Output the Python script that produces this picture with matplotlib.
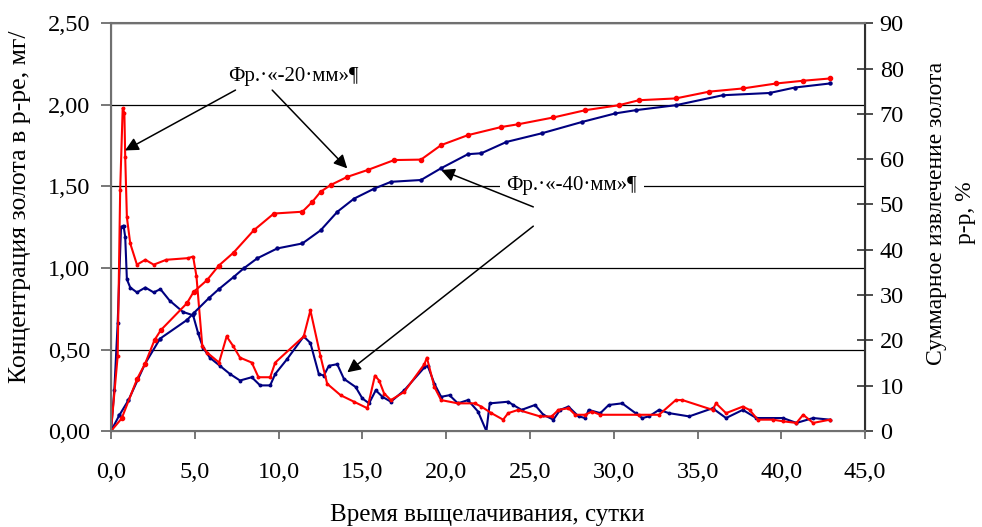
import matplotlib
matplotlib.use('Agg')
import matplotlib.pyplot as plt

plt.rcParams['font.family'] = ['Liberation Serif', 'DejaVu Serif']

# concentration, mg/l (left axis)
t_conc_20 = [0, 0.4, 0.55, 0.7, 0.8, 0.85, 0.95, 1.15, 1.55, 2.05, 2.55, 3.3, 4.6, 4.9, 5.1, 5.45,
             5.75, 6.45, 6.9, 7.3, 7.7, 8.4, 8.8, 9.5, 9.8, 11.5, 11.9, 12.5, 12.9, 13.7, 14.5,
             15.3, 15.75, 16.0, 16.3, 16.7, 17.5, 18.7, 18.85, 19.3, 19.7, 20.7, 21.7, 22.1,
             22.7, 23.4, 23.7, 24.3, 25.6, 26.3, 26.7, 27.3, 27.7, 28.3, 28.7, 29.2, 31.5, 32.7,
             33.7, 34.1, 35.9, 36.1, 36.7, 37.7, 38.1, 38.6, 39.5, 40.1, 40.9, 41.3, 41.9, 42.9]
conc_20 = [0, 0.46, 1.48, 1.98, 1.95, 1.68, 1.31, 1.15, 1.02, 1.05, 1.02, 1.05, 1.06, 1.07, 0.95,
           0.52, 0.48, 0.42, 0.58, 0.52, 0.45, 0.42, 0.33, 0.33, 0.42, 0.58, 0.74, 0.46, 0.29,
           0.22, 0.18, 0.14, 0.34, 0.31, 0.23, 0.19, 0.24, 0.41, 0.45, 0.27, 0.19, 0.17, 0.17,
           0.15, 0.11, 0.07, 0.11, 0.13, 0.09, 0.09, 0.13, 0.14, 0.10, 0.10, 0.12, 0.10, 0.10,
           0.10, 0.19, 0.19, 0.13, 0.17, 0.11, 0.15, 0.13, 0.07, 0.07, 0.06, 0.05, 0.10, 0.05, 0.07]

t_conc_40 = [0, 0.2, 0.4, 0.6, 0.75, 0.85, 0.95, 1.15, 1.55, 2.05, 2.55, 2.95, 3.5, 4.3, 4.9, 5.2,
             5.5, 5.9, 6.5, 7.1, 7.7, 8.4, 8.9, 9.5, 9.8, 10.5, 11.5, 11.9, 12.4, 12.7, 13.0,
             13.5, 13.9, 14.6, 15.0, 15.4, 15.8, 16.2, 16.7, 17.5, 18.7, 18.9, 19.3, 19.7, 20.2,
             20.7, 21.3, 21.9, 22.4, 22.6, 23.7, 24.0, 24.5, 25.3, 25.8, 26.4, 26.8, 27.3, 27.9,
             28.3, 28.5, 29.2, 29.7, 30.5, 31.3, 31.7, 32.1, 32.7, 33.3, 34.5, 35.9, 36.7, 37.7,
             38.5, 40.1, 40.9, 41.9, 42.9]
conc_40 = [0, 0.25, 0.66, 1.25, 1.26, 1.19, 0.93, 0.88, 0.85, 0.88, 0.85, 0.87, 0.80, 0.73, 0.71,
           0.60, 0.51, 0.45, 0.40, 0.35, 0.31, 0.33, 0.28, 0.28, 0.35, 0.44, 0.58, 0.54, 0.35,
           0.34, 0.40, 0.41, 0.32, 0.27, 0.20, 0.17, 0.25, 0.21, 0.18, 0.25, 0.39, 0.40, 0.29,
           0.21, 0.22, 0.17, 0.19, 0.12, 0.0, 0.17, 0.18, 0.16, 0.13, 0.16, 0.10, 0.07, 0.13,
           0.15, 0.09, 0.08, 0.13, 0.11, 0.16, 0.17, 0.11, 0.08, 0.09, 0.13, 0.11, 0.09, 0.14,
           0.08, 0.13, 0.08, 0.08, 0.05, 0.08, 0.07]

# cumulative extraction, % (right axis)
t_ext_20 = [0, 0.64, 1.57, 2.04, 2.6, 2.98, 4.53, 4.93, 5.73, 6.43, 7.32, 8.52, 9.72, 11.42, 12.02,
            12.51, 13.11, 14.11, 15.31, 16.9, 18.5, 19.7, 21.3, 23.3, 24.3, 26.4, 28.3, 30.3,
            31.5, 33.7, 35.7, 37.7, 39.7, 41.3, 42.9]
ext_20 = [0, 2.8, 11.6, 14.9, 20.1, 22.3, 28.2, 30.7, 33.3, 36.5, 39.4, 44.3, 48.0, 48.4, 50.6,
          52.8, 54.3, 56.1, 57.6, 59.8, 59.9, 63.1, 65.3, 67.1, 67.7, 69.2, 70.8, 71.9, 73.0,
          73.4, 74.9, 75.6, 76.7, 77.3, 77.8]

t_ext_40 = [0, 0.5, 1.04, 2.04, 2.93, 4.53, 4.93, 5.83, 6.43, 7.32, 7.92, 8.72, 9.92, 11.42, 12.51,
            13.51, 14.51, 15.71, 16.71, 18.5, 19.7, 21.3, 22.1, 23.6, 25.7, 28.1, 30.1, 31.3,
            33.7, 36.5, 39.3, 40.8, 42.9]
ext_40 = [0, 3.5, 6.8, 14.9, 20.4, 24.5, 26.0, 29.3, 31.3, 34.0, 35.9, 38.1, 40.3, 41.4, 44.3,
          48.4, 51.3, 53.5, 55.0, 55.4, 58.0, 61.1, 61.3, 63.8, 65.7, 68.2, 70.1, 70.8, 71.9,
          74.1, 74.6, 75.8, 76.7]

x_ticks = [0, 5, 10, 15, 20, 25, 30, 35, 40, 45]
x_labels = ['0,0', '5,0', '10,0', '15,0', '20,0', '25,0', '30,0', '35,0', '40,0', '45,0']
y_ticks = [0, 0.5, 1.0, 1.5, 2.0, 2.5]
y_labels = ['0,00', '0,50', '1,00', '1,50', '2,00', '2,50']
y2_ticks = [0, 10, 20, 30, 40, 50, 60, 70, 80, 90]

RED = '#ff0000'
BLUE = '#000080'

fig = plt.figure(figsize=(9.82, 5.27), dpi=100)
ax = fig.add_axes([0.113, 0.182, 0.768, 0.774])
ax2 = ax.twinx()

ax.plot(t_conc_40, conc_40, color=BLUE, lw=1.5, marker='o', ms=1.8, zorder=3)
ax.plot(t_conc_20, conc_20, color=RED, lw=1.5, marker='o', ms=1.8, zorder=3)
ax2.plot(t_ext_40, ext_40, color=BLUE, lw=1.5, marker='o', ms=2.2)
ax2.plot(t_ext_20, ext_20, color=RED, lw=1.5, marker='o', ms=3)

ax.set_xlim(0, 45)
ax.set_ylim(0, 2.5)
ax2.set_ylim(0, 90)
ax.set_xticks(x_ticks)
ax.set_xticklabels(x_labels)
ax.set_yticks(y_ticks)
ax.set_yticklabels(y_labels)
ax2.set_yticks(y2_ticks)
ax2.set_yticklabels([str(v) for v in y2_ticks])

ax.yaxis.grid(True, color='black', lw=0.9)
ax.set_axisbelow(True)

ax.tick_params(axis='x', direction='out', length=6, width=1.2, pad=16, labelsize=17.5, color='#606060')
ax.tick_params(axis='y', direction='out', length=7, width=1.2, pad=8, labelsize=17.5, color='#606060')
ax2.tick_params(axis='y', direction='inout', length=11, width=1.2, pad=5, labelsize=17.5, color='#303030')

for s in ['left', 'bottom', 'top']:
    ax2.spines[s].set_color('#707070')
    ax2.spines[s].set_linewidth(1.5)
ax2.spines['right'].set_color('#303030')
ax2.spines['right'].set_linewidth(1.5)

# annotations
ax.text(10.9, 2.175, 'Фр.·«-20·мм»¶', fontsize=15, ha='center', va='center', zorder=4,
        bbox=dict(facecolor='white', edgecolor='none', pad=5))
ax.text(27.5, 1.505, 'Фр.·«-40·мм»¶', fontsize=15, ha='center', va='center', zorder=4,
        bbox=dict(facecolor='white', edgecolor='none', pad=5))

arrow = dict(arrowstyle='-|>', color='black', lw=1.1, mutation_scale=20, shrinkA=0, shrinkB=0)
ax.annotate('', xy=(0.84, 1.72), xytext=(7.43, 2.09), arrowprops=arrow, zorder=5)
ax.annotate('', xy=(14.1, 1.61), xytext=(9.62, 2.09), arrowprops=arrow, zorder=5)
ax.annotate('', xy=(19.7, 1.60), xytext=(25.2, 1.374), arrowprops=arrow, zorder=5)
ax.annotate('', xy=(14.1, 0.36), xytext=(25.2, 1.256), arrowprops=arrow, zorder=5)

fig.text(20 / 982, 1 - 207 / 527, 'Концентрация золота в р-ре, мг/', rotation=90,
         ha='center', va='center', fontsize=18.5)
fig.text(951 / 982, 1 - 213 / 527, 'Суммарное извлечение золота\nр-р, %', rotation=90,
         ha='center', va='center', fontsize=17, multialignment='center', linespacing=1.55)
fig.text(487 / 982, 1 - 515 / 527, 'Время выщелачивания, сутки', ha='center', va='center',
         fontsize=18)

fig.savefig('out.png', dpi=100)
